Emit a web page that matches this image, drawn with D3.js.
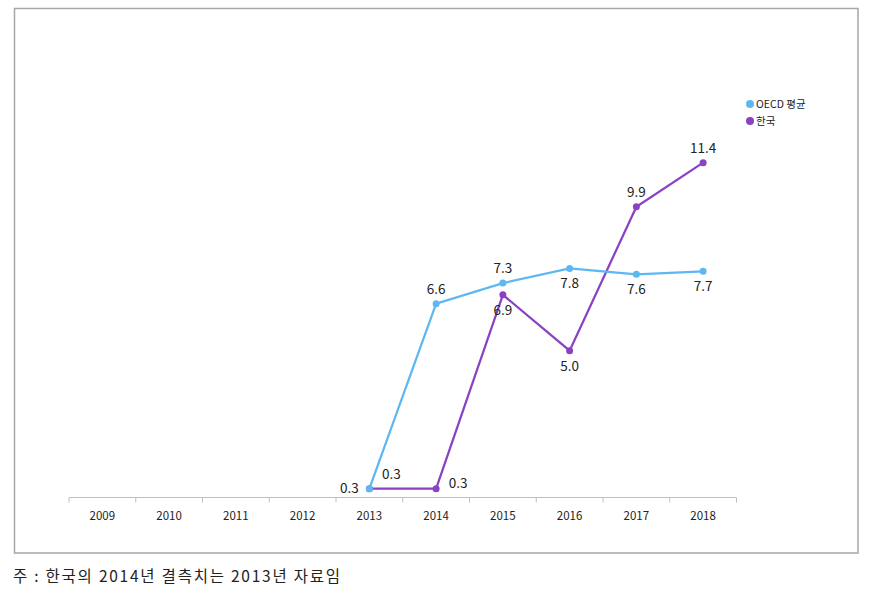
<!DOCTYPE html>
<html><head><meta charset="utf-8">
<script src="https://cdn.jsdelivr.net/npm/d3@7"></script>
<style>body{margin:0;background:#fff}svg{display:block}</style>
</head><body>
<script>
const years = ["2009","2010","2011","2012","2013","2014","2015","2016","2017","2018"];
const oecdYears = ["2013","2014","2015","2016","2017","2018"];
const oecdValues = [0.3, 6.6, 7.3, 7.8, 7.6, 7.7];
const oecdLabelPos = ["left","above","above","below","below","below"];
const koreaYears = ["2013","2014","2015","2016","2017","2018"];
const koreaValues = [0.3, 0.3, 6.9, 5.0, 9.9, 11.4];
const koreaLabelPos = ["aboveRight","right","below","below","above","above"];
const seriesNames = ["OECD 평균","한국"];
const note = "주 : 한국의 2014년 결측치는 2013년 자료임";

const W = 873, H = 593;
const svg = d3.select("body").append("svg").attr("width", W).attr("height", H);
const font = "'Noto Sans CJK KR','Noto Sans',sans-serif";
const blue = "#5db7f2", purple = "#8a41c2";

svg.append("rect").attr("x",14.5).attr("y",8.5).attr("width",843.5).attr("height",544.5)
  .attr("fill","#fff").attr("stroke","#a6a6a6").attr("stroke-width",1.5);

const x = d3.scaleBand().domain(years).range([69, 736.5]);
const y = d3.scaleLinear().domain([0, 12]).range([497.5, 497.5 - 12*29.37]);

const axis = svg.append("g").attr("transform","translate(0,497.5)");
axis.append("line").attr("x1",69).attr("x2",736.5).attr("stroke","#bfbfbf").attr("stroke-width",1);
axis.selectAll("line.tk").data(years.concat(["end"])).enter().append("line")
  .attr("x1",(d,i)=> i<years.length ? x(d) : 736.5).attr("x2",(d,i)=> i<years.length ? x(d) : 736.5)
  .attr("y1",0).attr("y2",5).attr("stroke","#bfbfbf");
axis.selectAll("text").data(years).enter().append("text")
  .attr("x", d=>x(d)+x.bandwidth()/2).attr("y",22).attr("text-anchor","middle")
  .attr("font-family",font).attr("font-size",11.5).attr("fill","#222").text(d=>d);

function drawSeries(ys, vals, color, pos){
  const pts = ys.map((yr,i)=>({yr, v: vals[i], p: pos[i]}));
  const line = d3.line().x(d=>x(d.yr)+x.bandwidth()/2).y(d=>y(d.v));
  svg.append("path").datum(pts).attr("d",line).attr("fill","none").attr("stroke",color).attr("stroke-width",2.25);
  svg.selectAll(null).data(pts).enter().append("circle")
    .attr("cx",d=>x(d.yr)+x.bandwidth()/2).attr("cy",d=>y(d.v)).attr("r",3.5).attr("fill",color);
  return pts;
}
function drawLabels(pts){
  const off = {left:[-20,4], above:[0,-10], below:[0,20], right:[22,-1], aboveRight:[22,-10]};
  svg.selectAll(null).data(pts).enter().append("text")
    .attr("x",d=>x(d.yr)+x.bandwidth()/2+off[d.p][0]).attr("y",d=>y(d.v)+off[d.p][1])
    .attr("text-anchor","middle").attr("font-family",font).attr("font-size",13.5).attr("fill","#222")
    .text(d=>d.v.toFixed(1));
}
const kp = drawSeries(koreaYears, koreaValues, purple, koreaLabelPos);
const op = drawSeries(oecdYears, oecdValues, blue, oecdLabelPos);
drawLabels(op); drawLabels(kp);

const lg = svg.append("g");
[blue, purple].forEach((c,i)=>{
  lg.append("circle").attr("cx",750).attr("cy",104+i*17).attr("r",4).attr("fill",c);
  lg.append("text").attr("x",756).attr("y",108+i*17).attr("font-family",font).attr("font-size",10.5)
    .attr("fill","#222").text(seriesNames[i]);
});

svg.append("text").attr("x",13).attr("y",582).attr("font-family",font).attr("font-size",15.5)
  .attr("textLength",327).attr("lengthAdjust","spacing")
  .attr("fill","#222").text(note);
</script>
</body></html>
